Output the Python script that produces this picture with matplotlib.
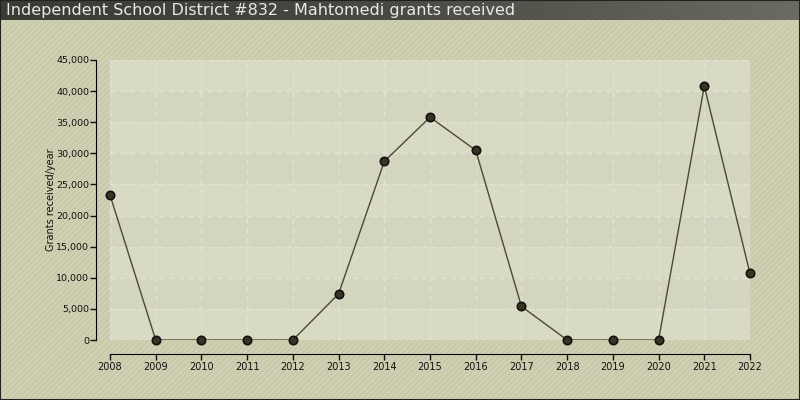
import matplotlib
matplotlib.use('Agg')
import matplotlib.pyplot as plt
import numpy as np
from matplotlib.patches import Rectangle
from matplotlib.colors import LinearSegmentedColormap

years = [2008, 2009, 2010, 2011, 2012, 2013, 2014, 2015, 2016, 2017, 2018, 2019, 2020, 2021, 2022]
grants = [23300, 0, 0, 0, 0, 7400, 28700, 35800, 30500, 5400, 0, 0, 0, 40800, 10700]
yticks = [0, 5000, 10000, 15000, 20000, 25000, 30000, 35000, 40000, 45000]

fig = plt.figure(figsize=(8, 4), dpi=100)
fig.patch.set_facecolor('#d0d0b2')

# diagonal hatching over the whole background
bg = Rectangle((0, 0), 1, 1, transform=fig.transFigure, facecolor='none',
               edgecolor='#c6c6a8', hatch='//////', linewidth=0, zorder=-10)
fig.patches.append(bg)

# title bar with a gradient
tax = fig.add_axes([0, 0.95, 1, 0.05])
grad = np.linspace(0, 1, 256).reshape(1, -1)
cmap = LinearSegmentedColormap.from_list('bar', ['#3b3b36', '#4a4a44', '#6b6b62'])
tax.imshow(grad, aspect='auto', cmap=cmap, extent=[0, 1, 0, 1])
tax.set_axis_off()
tax.text(0.008, 0.5, 'Independent School District #832 - Mahtomedi grants received',
         color='#e8e8e8', fontsize=11.5, va='center', ha='left', transform=tax.transAxes)

ax = fig.add_axes([110 / 800, 60 / 400, 640 / 800, 280 / 400])
ax.set_facecolor('#d8d9c2')
ax.set_xlim(2008, 2022)
ax.set_ylim(0, 45000)

# alternating bands
for i in range(len(yticks) - 1):
    if i % 2 == 0:
        ax.axhspan(yticks[i], yticks[i + 1], color='#d9dac4', zorder=0, lw=0)
    else:
        ax.axhspan(yticks[i], yticks[i + 1], color='#d4d5be', zorder=0, lw=0)

ax.grid(True, color='#e2e2d6', linestyle=(0, (4, 3)), linewidth=1, zorder=1)
ax.set_axisbelow(True)

ax.plot(years, grants, color='#4a4a30', linewidth=1, zorder=3)
ax.plot(years, grants, 'o', markersize=6, markerfacecolor='#3a3520',
        markeredgecolor='#111111', markeredgewidth=1.2, zorder=4, clip_on=False)

ax.set_xticks(years)
ax.set_yticks(yticks)
ax.set_yticklabels([f'{v:,}' for v in yticks])
ax.tick_params(labelsize=7, length=4, width=1, color='#111111', labelcolor='#111111', pad=2)
ax.tick_params(axis='y', labelsize=6.8, pad=1)
ax.spines['top'].set_visible(False)
ax.spines['right'].set_visible(False)
ax.spines['left'].set_position(('outward', 10))
ax.spines['bottom'].set_position(('outward', 10))
ax.set_ylabel('Grants received/year', fontsize=7, color='#111111')
ax.yaxis.set_label_coords(-0.084, 0.5)

# outer border
fig.patches.append(Rectangle((0, 0), 1, 1, transform=fig.transFigure, facecolor='none',
                             edgecolor='#222222', linewidth=1.5, zorder=10))

fig.savefig('out.png', dpi=100, facecolor=fig.get_facecolor())
